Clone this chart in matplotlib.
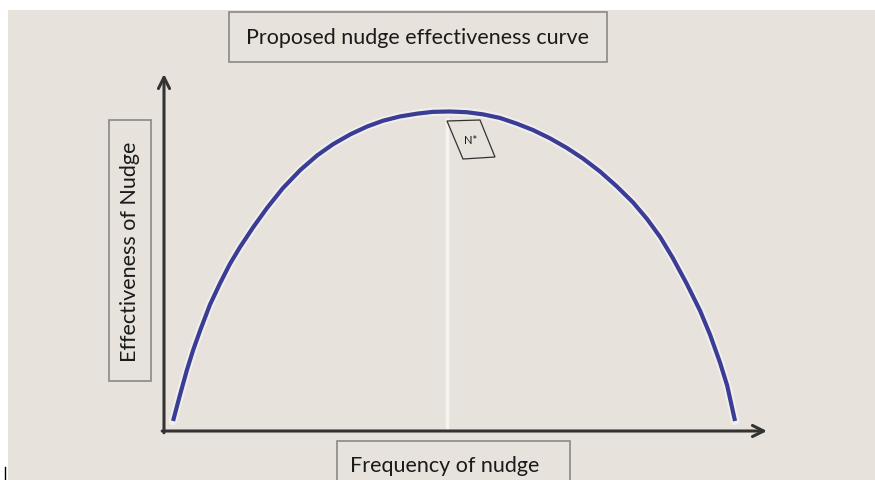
import numpy as np
import matplotlib.pyplot as plt
from matplotlib.patches import Rectangle, Polygon

# curve (frequency, effectiveness), arbitrary 0-100 units
frequency = [1.5, 2.65, 3.8, 4.8, 6.0, 7.6, 9.3, 10.9, 12.6, 14.8, 17.1, 19.7,
             22.6, 25.4, 28.0, 30.9, 33.7, 36.3, 39.1, 42.0, 44.6, 47.4, 50.2,
             52.9, 55.7, 58.5, 61.2, 64.0, 66.8, 69.5, 72.3, 75.1, 77.8, 80.1,
             82.3, 84.4, 86.7, 88.9, 90.55, 92.2, 93.4, 94.7]
effectiveness = [2.8, 10.1, 17.1, 22.5, 28.2, 35.3, 41.4, 46.7, 51.5, 57.1, 62.5, 68.0,
                 73.1, 77.2, 80.3, 83.1, 85.3, 86.9, 88.1, 88.9, 89.4, 89.5, 89.3,
                 88.7, 87.7, 86.1, 84.3, 82.0, 79.3, 76.3, 72.7, 68.5, 64.0, 59.4,
                 54.3, 48.4, 41.2, 33.7, 27.0, 19.2, 12.7, 2.8]
n_star = 46.9

title = "Proposed nudge effectiveness curve"
xlabel = "Frequency of nudge"
ylabel = "Effectiveness of Nudge"

W, H = 875, 481
bg = "#e7e2dc"
plt.rcParams['font.family'] = ['Lato', 'DejaVu Sans']


def px(x, y):
    # pixel (from top-left) -> figure fraction
    return (x / W, 1 - y / H)


fig = plt.figure(figsize=(W / 100, H / 100), dpi=100)
fig.patch.set_facecolor('white')
fig.add_artist(Rectangle(px(8, 481), (W - 8) / W, 470 / H, transform=fig.transFigure,
                         facecolor=bg, edgecolor='none', zorder=0))
fig.add_artist(plt.Line2D([5 / W, 5 / W], [0, 13 / H], color='black', lw=1))

ax = fig.add_axes([164 / W, 49 / H, 603 / W, 357 / H])
ax.set_xlim(0, 100)
ax.set_ylim(0, 100)
ax.axis('off')

# N* marker line
peak = max(effectiveness)
ax.plot([n_star, n_star], [0, peak - 2], color='#f6f4f1', lw=2.5, zorder=1)

# curve with a faint halo
ax.plot(frequency, effectiveness, color='white', lw=6, alpha=0.45,
        solid_capstyle='round', zorder=2)
ax.plot(frequency, effectiveness, color='#3a3c96', lw=3,
        solid_capstyle='butt', solid_joinstyle='round', zorder=3)

# axes arrows
arrow = dict(arrowstyle='->', lw=2.2, color='#333333', mutation_scale=20,
             shrinkA=0, shrinkB=0)
ax.annotate('', xy=(1, 0), xytext=(-0.003, 0), xycoords='axes fraction', arrowprops=arrow)
ax.annotate('', xy=(0, 1), xytext=(0, -0.005), xycoords='axes fraction', arrowprops=arrow)


def label_box(x0, y0, x1, y1, text, rot=0, size=15.5):
    fig.add_artist(Rectangle(px(x0, y1), (x1 - x0) / W, (y1 - y0) / H,
                             transform=fig.transFigure, facecolor=bg,
                             edgecolor='#8a8885', lw=1.2, zorder=4))
    cx, cy = px((x0 + x1) / 2, (y0 + y1) / 2)
    fig.text(cx, cy, text, ha='center', va='center', rotation=rot,
             fontsize=size, color='#1a1a1a', zorder=5)


label_box(229, 13, 607, 63, title)
label_box(109, 121, 151, 382, ylabel, rot=90)
fig.add_artist(Rectangle(px(337, 490), 233 / W, 48 / H, transform=fig.transFigure,
                         facecolor=bg, edgecolor='#8a8885', lw=1.2, zorder=4))
fig.text(*px(445, 466), xlabel, ha='center', va='center', fontsize=15.5,
         color='#1a1a1a', zorder=5)

# N* tag
tag = [px(447, 122), px(480, 121), px(495, 158), px(463, 160)]
fig.add_artist(Polygon(tag, closed=True, transform=fig.transFigure,
                       facecolor=bg, edgecolor='#333333', lw=0.9, zorder=4))
fig.text(*px(471, 140), "N*", ha='center', va='center', fontsize=8,
         color='#1a1a1a', zorder=5)

fig.savefig('out.png', dpi=100, facecolor=fig.get_facecolor())
